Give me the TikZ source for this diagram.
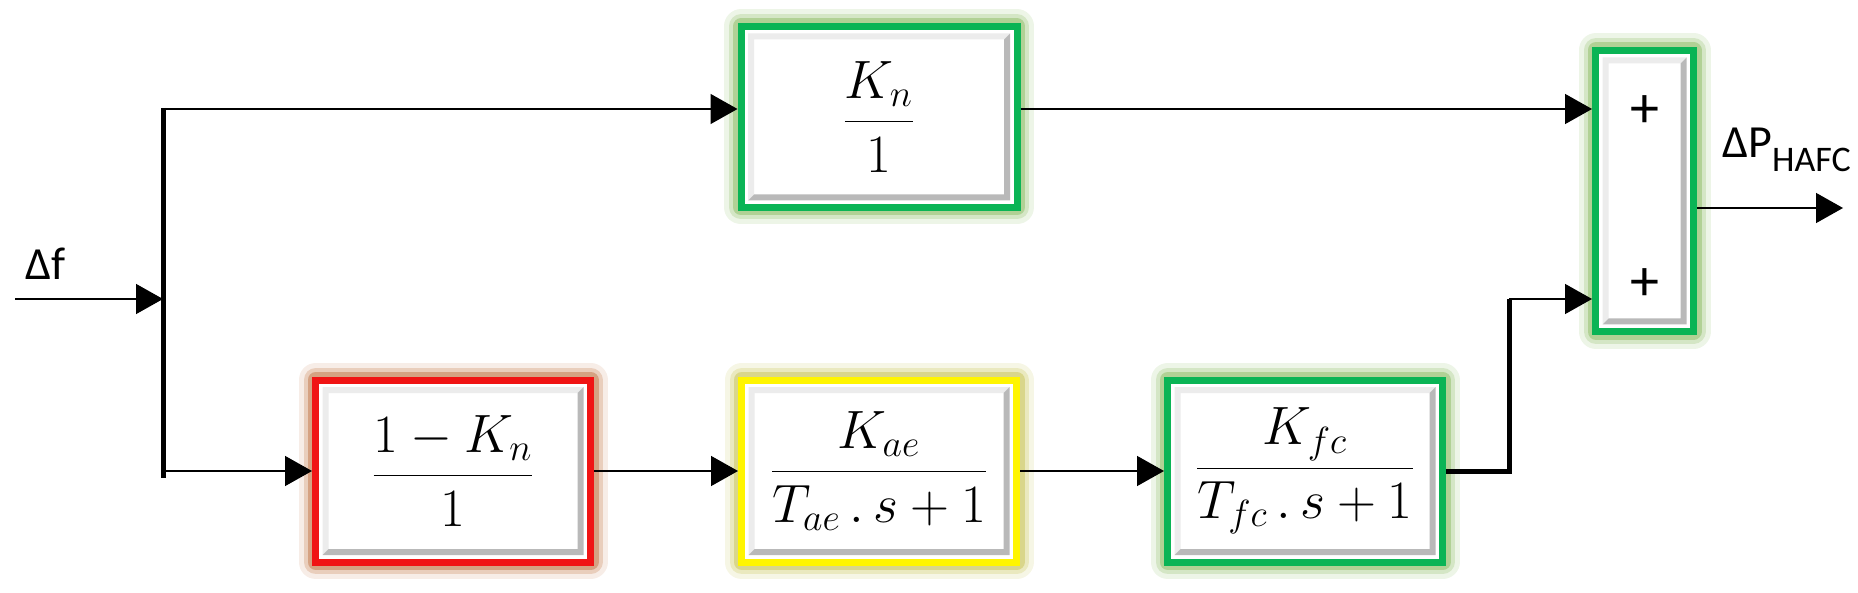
\RequirePackage{fix-cm}
\documentclass[tikz,border=0pt]{standalone}
\usepackage[no-math]{fontspec}
\setmainfont{Carlito}
\usetikzlibrary{arrows.meta,positioning}

\definecolor{bgreen}{RGB}{10,180,85}
\definecolor{ggreen}{RGB}{110,170,60}
\definecolor{bred}{RGB}{240,20,20}
\definecolor{gred}{RGB}{190,110,60}
\definecolor{byellow}{RGB}{255,245,0}
\definecolor{gyellow}{RGB}{185,180,40}

\tikzstyle{block} = [rectangle, draw, line width=3.5pt, fill=white, inner sep=0pt, minimum width=137.5pt, minimum height=91pt, font=\fontsize{27}{32}\selectfont,
  path picture={
    \coordinate (p1) at ([shift={(3.5pt,3.5pt)}]path picture bounding box.south west);
    \coordinate (p2) at ([shift={(-3.5pt,-3.5pt)}]path picture bounding box.north east);
    \coordinate (q1) at ([shift={(6.5pt,6.5pt)}]path picture bounding box.south west);
    \coordinate (q2) at ([shift={(-6.5pt,-6.5pt)}]path picture bounding box.north east);
    \fill[gray!15] (p1) -- (p1 |- p2) -- (p2) -- (q2) -- (q1 |- q2) -- (q1) -- cycle;
    \fill[gray!55] (p1) -- (p2 |- p1) -- (p2) -- (q2) -- (q2 |- q1) -- (q1) -- cycle;
  }]
\tikzstyle{glowG} = [preaction={draw=ggreen, line width=17pt, line join=round, draw opacity=0.12}, preaction={draw=ggreen, line width=12pt, line join=round, draw opacity=0.2}, preaction={draw=ggreen, line width=8pt, line join=round, draw opacity=0.35}]
\tikzstyle{blockG} = [block, draw=bgreen, glowG]
\tikzstyle{blockR} = [block, draw=bred, preaction={draw=gred, line width=17pt, line join=round, draw opacity=0.12}, preaction={draw=gred, line width=12pt, line join=round, draw opacity=0.25}, preaction={draw=gred, line width=8pt, line join=round, draw opacity=0.45}]
\tikzstyle{blockY} = [block, draw=byellow, preaction={draw=gyellow, line width=17pt, line join=round, draw opacity=0.12}, preaction={draw=gyellow, line width=12pt, line join=round, draw opacity=0.2}, preaction={draw=gyellow, line width=8pt, line join=round, draw opacity=0.35}]
\tikzstyle{label} = [inner sep=0pt, font=\fontsize{23}{27}\selectfont]
\tikzstyle{sign} = [inner sep=0pt, font=\fontsize{29}{32}\selectfont]
\tikzstyle{arrow} = [draw, line width=0.75pt, -{Triangle[length=13.5pt, width=15pt]}]
\tikzstyle{bus} = [draw, line width=2.5pt]

\begin{document}
\begin{tikzpicture}[x=0.5pt, y=-0.5pt, node distance=213pt]
  \useasboundingbox (0,0) rectangle (1858,593);

  \node [blockR] at (453,471) (r1) {$\displaystyle\frac{1-K_n}{1}$};
  \node [blockY, right of=r1] (r2) {$\displaystyle\frac{K_{ae}}{T_{ae}\,.\,s+1}$};
  \node [blockG, right of=r2] (r3) {$\displaystyle\frac{K_{fc}}{T_{fc}\,.\,s+1}$};
  \node [blockG, above of=r2, node distance=177pt, minimum width=138pt, minimum height=90.5pt] (kn) {$\displaystyle\frac{K_n}{1}$};
  \node [blockG, minimum width=49pt, minimum height=140.5pt] at (1644.5,191) (sum) {};
  \node [sign, above of=sum, node distance=39.5pt] (plus1) {+};
  \node [sign, below of=sum, node distance=47pt] (plus2) {+};

  \coordinate (in) at (15,299);
  \coordinate (sp) at (163,299);
  \coordinate (stop) at (163,109);
  \coordinate (sbot) at (163,471);
  \coordinate (jn) at (1509,299);
  \coordinate (out) at (1843,208);

  \node [label, anchor=base west] at (25,280) (dflab) {Δf};
  \node [label, anchor=base west] at (1722,158) (dplab) {ΔP\raisebox{-7pt}{\fontsize{18}{21}\selectfont HAFC}};

  \draw [arrow] (in) -- (sp);
  \draw [bus] ([yshift=0.5pt]stop) -- ([yshift=-3.5pt]sbot);
  \draw [arrow] (stop) -- (stop -| kn.west);
  \draw [arrow] (sbot) -- (r1.west);
  \draw [arrow] (r1.east) -- (r2.west);
  \draw [arrow] (r2.east) -- (r3.west);
  \draw [arrow] (kn.east |- stop) -- (stop -| sum.west);
  \draw [bus] (r3.east) -| (jn);
  \draw [arrow] (jn) -- (jn -| sum.west);
  \draw [arrow] (sum.east |- out) -- (out);
\end{tikzpicture}
\end{document}
